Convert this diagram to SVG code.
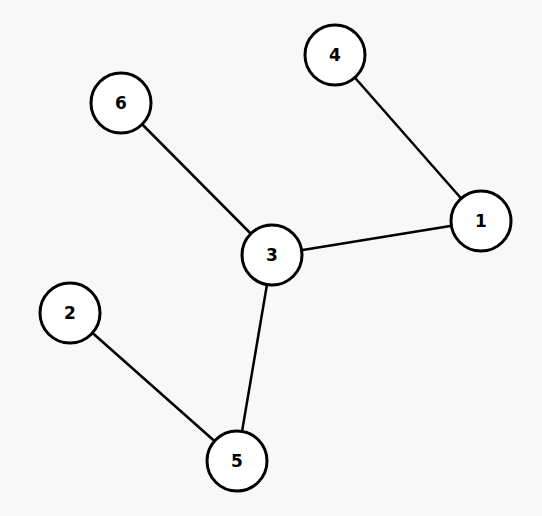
<svg xmlns="http://www.w3.org/2000/svg" width="542" height="516" viewBox="0 0 542 516">
<style>
.n circle{fill:#fff;stroke:#000;stroke-width:3}
.n text{font-family:"DejaVu Sans","Liberation Sans",sans-serif;font-weight:bold;font-size:17px;text-anchor:middle;dominant-baseline:central;fill:#000}
.e line{stroke:#000;stroke-width:2.5}
</style>
<rect width="542" height="516" fill="#f8f8f8"/>
<g id="edges" class="e">
<line x1="335" y1="55" x2="481" y2="221"/>
<line x1="121" y1="103" x2="272" y2="255"/>
<line x1="481" y1="221" x2="272" y2="255"/>
<line x1="272" y1="255" x2="237" y2="461"/>
<line x1="70" y1="313" x2="237" y2="461"/>
</g>
<g id="node4" class="n"><circle cx="335" cy="55" r="30"/><text x="335" y="55">4</text></g>
<g id="node6" class="n"><circle cx="121" cy="103" r="30"/><text x="121" y="103">6</text></g>
<g id="node1" class="n"><circle cx="481" cy="221" r="30"/><text x="481" y="221">1</text></g>
<g id="node3" class="n"><circle cx="272" cy="255" r="30"/><text x="272" y="255">3</text></g>
<g id="node2" class="n"><circle cx="70" cy="313" r="30"/><text x="70" y="313">2</text></g>
<g id="node5" class="n"><circle cx="237" cy="461" r="30"/><text x="237" y="461">5</text></g>
</svg>
